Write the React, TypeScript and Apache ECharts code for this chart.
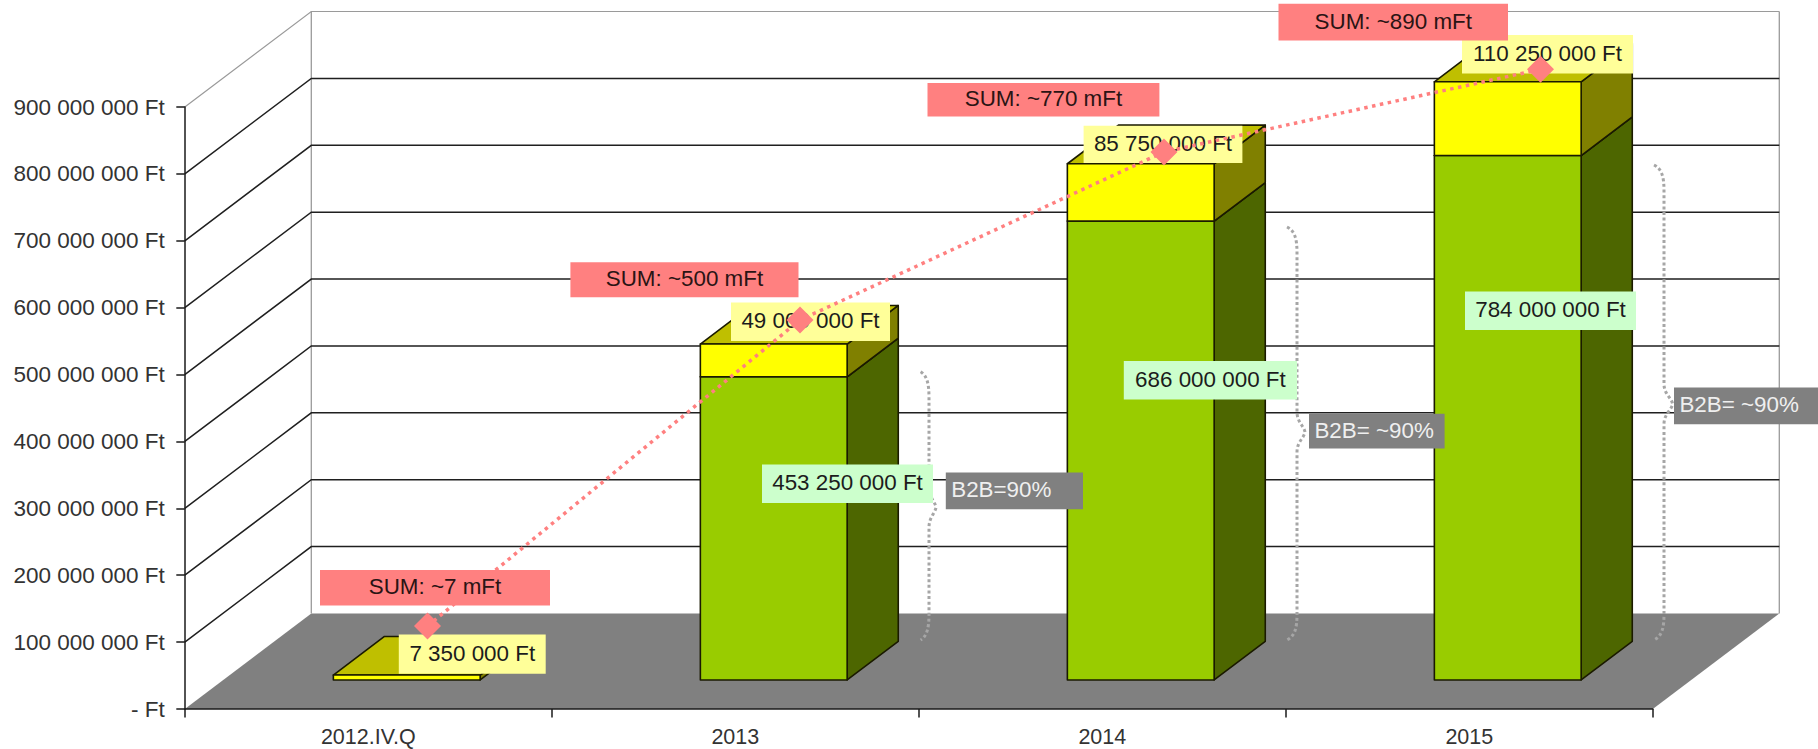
import React, { useEffect, useRef } from "react";
import * as echarts from "echarts";

const categories = ["2012.IV.Q", "2013", "2014", "2015"];
const b2bValues = [0, 453250000, 686000000, 784000000];
const otherValues = [7350000, 49000000, 85750000, 110250000];
const sumLine = [52700000, 510600000, 762000000, 885700000];
const sumPositions = [0, 1.004, 1.985, 3];
const gridTicks = [100000000, 200000000, 300000000, 400000000, 500000000, 600000000, 700000000, 800000000, 900000000];
const sumTexts = ["SUM: ~7 mFt", "SUM: ~500 mFt", "SUM: ~770 mFt", "SUM: ~890 mFt"];
const b2bTexts = ["B2B=90%", "B2B= ~90%", "B2B= ~90%"];

// chart geometry
const G = { left: 184.8, top: 107, width: 1468, height: 602 };
const LINE_GRID = { left: 242, top: 59.75, width: 1484, height: 601.5 };
const DEPTH_X = 126.5;
const DEPTH_Y = 95.5;
const BAR_RATIO = 0.4;
const BAR_NEAR = 0.304;
const BAR_FAR = 0.708;

const fmt = (v: number) =>
  v === 0 ? "- Ft" : String(v).replace(/\B(?=(\d{3})+$)/g, " ") + " Ft";

// label boxes: x0, x1, y0, y1
const sumBoxes = [
  [320, 550, 570, 605.4],
  [570.4, 798.5, 262.3, 297.2],
  [927.5, 1159.4, 83, 116.6],
  [1278.5, 1508, 3.8, 40.6],
];
const otherBoxes = [
  [398.8, 545.7, 634.5, 673.7],
  [731, 890, 302.4, 341],
  [1083.6, 1242.4, 125.7, 163],
  [1462, 1633, 35, 73.6],
];
const b2bValueBoxes = [
  [762, 933, 464.4, 503],
  [1123.8, 1297, 361, 399.4],
  [1465, 1636, 291.4, 330],
];
const b2bTextBoxes = [
  [945.8, 1083, 472.5, 509.3],
  [1309, 1444.6, 413.8, 448.6],
  [1674, 1818, 387.5, 424.3],
];
// right-brace outlines: left x, spine x, tip x, top y, tip y, bottom y
const braces = [
  [920.6, 929, 936, 371.7, 507.4, 640],
  [1287, 1297, 1305, 227, 432, 640],
  [1654, 1664, 1672.6, 165, 404, 640],
];

const FONT = "'Liberation Sans', Arial, sans-serif";
const FS = 22.4;

function box(b: number[], fill: string, text: string, color: string, z: number, align = "center") {
  const [x0, x1, y0, y1] = b;
  return [
    { type: "rect", z, silent: true, shape: { x: x0, y: y0, width: x1 - x0, height: y1 - y0 }, style: { fill } },
    {
      type: "text",
      z: z + 1,
      silent: true,
      x: align === "center" ? (x0 + x1) / 2 : x0 + 5.4,
      y: (y0 + y1) / 2 - 1,
      style: { text, fill: color, font: `${FS}px ${FONT}`, align, verticalAlign: "middle" },
    },
  ];
}

function poly(points: number[][], fill: string) {
  return {
    type: "polygon",
    shape: { points },
    style: { fill, stroke: "#1a1a00", lineWidth: 1.6, lineJoin: "round" },
  };
}

function renderBars(
  params: any,
  api: any,
  cols: { front: string; side: string; top: string }
) {
  const cat = api.value(0);
  const base = api.value(1);
  const top = api.value(2);
  const [xc, y0] = api.coord([cat, base]);
  const [, y1] = api.coord([cat, top]);
  const w = api.size([1, 0])[0] * BAR_RATIO;
  const nx = DEPTH_X * BAR_NEAR;
  const ny = DEPTH_Y * BAR_NEAR;
  const fx = DEPTH_X * BAR_FAR;
  const fy = DEPTH_Y * BAR_FAR;
  const l = xc - w / 2 + nx;
  const r = xc + w / 2 + nx;
  const rb = xc + w / 2 + fx;
  const lb = xc - w / 2 + fx;
  return {
    type: "group",
    children: [
      poly([[r, y0 - ny], [rb, y0 - fy], [rb, y1 - fy], [r, y1 - ny]], cols.side),
      poly([[l, y1 - ny], [r, y1 - ny], [rb, y1 - fy], [lb, y1 - fy]], cols.top),
      poly([[l, y0 - ny], [r, y0 - ny], [r, y1 - ny], [l, y1 - ny]], cols.front),
    ],
  };
}

export default function App() {
  const ref = useRef<HTMLDivElement>(null);
  useEffect(() => {
    const chart = echarts.init(ref.current!, undefined, { renderer: "svg" });
    const yAxisBase = {
      type: "value",
      min: 0,
      max: 900000000,
      interval: 100000000,
    };
    chart.setOption({
      animation: false,
      backgroundColor: "#ffffff",
      textStyle: { fontFamily: FONT },
      grid: [
        { ...G, containLabel: false },
        { ...LINE_GRID },
      ],
      xAxis: [
        {
          type: "category",
          data: categories,
          gridIndex: 0,
          z: 1,
          axisLine: { lineStyle: { color: "#1a1a1a", width: 1.5 } },
          axisTick: { show: true, length: 8.5, alignWithLabel: false, lineStyle: { color: "#1a1a1a", width: 1.5 } },
          axisLabel: { color: "#333333", fontSize: 21.5, fontFamily: FONT, margin: 17 },
          splitLine: { show: false },
        },
        { type: "value", min: -0.5, max: 3.5, gridIndex: 1, show: false, splitLine: { show: false } },
      ],
      yAxis: [
        {
          ...yAxisBase,
          gridIndex: 0,
          z: 1,
          axisLine: { show: true, lineStyle: { color: "#1a1a1a", width: 1.5 } },
          axisTick: { show: true, length: 8.5, lineStyle: { color: "#1a1a1a", width: 1.5 } },
          axisLabel: { color: "#333333", fontSize: 22.5, fontFamily: FONT, margin: 20, formatter: (v: number) => fmt(v) },
          splitLine: { show: false },
        },
        { ...yAxisBase, gridIndex: 1, show: false, splitLine: { show: false } },
      ],
      series: [
        {
          name: "Floor",
          type: "custom",
          z: 0,
          silent: true,
          xAxisIndex: 0,
          yAxisIndex: 0,
          clip: false,
          data: [[0]],
          renderItem: (_p: any, api: any) => {
            const [x0, y0] = api.coord([0, 0]);
            const band = api.size([1, 0])[0];
            const xl = x0 - band / 2;
            const xr = xl + band * categories.length;
            const [, yTop] = api.coord([0, 900000000]);
            const wall = { stroke: "#9a9a9a", lineWidth: 1.3 };
            return {
              type: "group",
              children: [
                {
                  type: "polygon",
                  shape: { points: [[xl, y0], [xr, y0], [xr + DEPTH_X, y0 - DEPTH_Y], [xl + DEPTH_X, y0 - DEPTH_Y]] },
                  style: { fill: "#808080" },
                },
                { type: "line", shape: { x1: xl + DEPTH_X, y1: y0 - DEPTH_Y, x2: xl + DEPTH_X, y2: yTop - DEPTH_Y }, style: wall },
                { type: "line", shape: { x1: xr + DEPTH_X, y1: y0 - DEPTH_Y, x2: xr + DEPTH_X, y2: yTop - DEPTH_Y }, style: wall },
              ],
            };
          },
        },
        {
          name: "Grid",
          type: "custom",
          z: 0,
          silent: true,
          xAxisIndex: 0,
          yAxisIndex: 0,
          clip: false,
          data: gridTicks.map((v) => [0, v]),
          renderItem: (_p: any, api: any) => {
            const val = api.value(1);
            const [x0, y] = api.coord([0, val]);
            const band = api.size([1, 0])[0];
            const xl = x0 - band / 2;
            const xr = xl + band * categories.length;
            const st =
              val >= 900000000
                ? { stroke: "#9a9a9a", lineWidth: 1.2 }
                : { stroke: "#1f1f1f", lineWidth: 1.5 };
            return {
              type: "polyline",
              shape: { points: [[xl, y], [xl + DEPTH_X, y - DEPTH_Y], [xr + DEPTH_X, y - DEPTH_Y]] },
              style: { ...st, fill: "none" },
            };
          },
        },
        {
          name: "B2B",
          type: "custom",
          z: 2,
          xAxisIndex: 0,
          yAxisIndex: 0,
          clip: false,
          data: b2bValues.map((v, i) => [i, 0, v]).filter((d) => d[2] > 0),
          encode: { x: 0, y: [1, 2] },
          renderItem: (p: any, api: any) =>
            renderBars(p, api, { front: "#99CC00", side: "#4D6600", top: "#739900" }),
        },
        {
          name: "Other",
          type: "custom",
          z: 3,
          xAxisIndex: 0,
          yAxisIndex: 0,
          clip: false,
          data: otherValues.map((v, i) => [i, b2bValues[i], b2bValues[i] + v]),
          encode: { x: 0, y: [1, 2] },
          renderItem: (p: any, api: any) =>
            renderBars(p, api, { front: "#FFFF00", side: "#808000", top: "#BFBF00" }),
        },
        {
          name: "Braces",
          type: "custom",
          z: 4,
          silent: true,
          xAxisIndex: 0,
          yAxisIndex: 0,
          clip: false,
          data: braces.map((_b, i) => [i]),
          renderItem: (p: any) => {
            const [xa, xs, xt, yt, ym, yb] = braces[p.dataIndex];
            const d =
              `M${xa} ${yt} C${xs - 2} ${yt + 4} ${xs} ${yt + 12} ${xs} ${yt + 26} ` +
              `L${xs} ${ym - 20} C${xs} ${ym - 10} ${xt - 1} ${ym - 6} ${xt} ${ym} ` +
              `C${xt - 1} ${ym + 6} ${xs} ${ym + 10} ${xs} ${ym + 20} ` +
              `L${xs} ${yb - 26} C${xs} ${yb - 12} ${xs - 2} ${yb - 4} ${xa} ${yb}`;
            return {
              type: "path",
              shape: { pathData: d },
              style: { fill: "none", stroke: "#a6a6a6", lineWidth: 3, lineDash: [3, 2.6] },
            };
          },
        },
        {
          name: "SUM",
          type: "line",
          z: 7,
          xAxisIndex: 1,
          yAxisIndex: 1,
          data: sumLine.map((v, i) => [sumPositions[i], v]),
          symbol: "diamond",
          symbolSize: 27,
          showSymbol: true,
          clip: false,
          itemStyle: { color: "#FF8080" },
          lineStyle: { color: "#FF8080", width: 3.5, type: [3.5, 4.5] },
        },
      ],
      graphic: {
        elements: [
          ...otherBoxes.flatMap((b, i) => box(b, "#FFFF99", fmt(otherValues[i]), "#1c1c1c", 5)),
          ...b2bValues.slice(1).flatMap((v, i) => box(b2bValueBoxes[i], "#CCFFCC", fmt(v), "#1c1c1c", 5)),
          ...b2bTexts.flatMap((t, i) => box(b2bTextBoxes[i], "#808080", t, "#efefef", 5, "left")),
          ...sumBoxes.flatMap((b, i) => box(b, "#FF8080", sumTexts[i], "#2a1414", 8)),
        ],
      },
    });
    return () => chart.dispose();
  }, []);
  return (
    <div
      ref={ref}
      style={{ position: "absolute", left: 0, top: 0, width: 1818, height: 749, background: "#fff" }}
    />
  );
}
